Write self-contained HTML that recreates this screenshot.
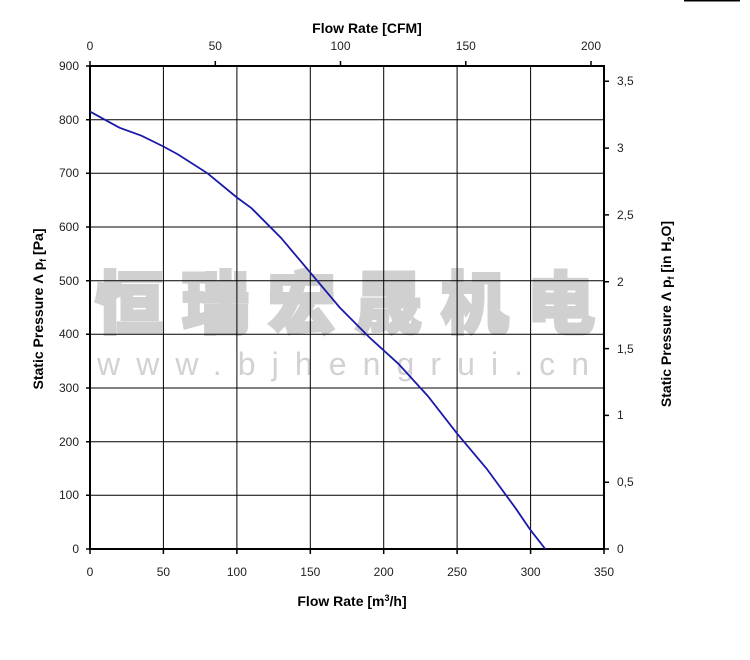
<!DOCTYPE html>
<html><head><meta charset="utf-8"><style>body{margin:0;background:#fff}svg{display:block}</style></head><body>
<svg width="750" height="660" xmlns="http://www.w3.org/2000/svg" font-family="Liberation Sans, Arial, sans-serif">
<rect width="750" height="660" fill="#fff"/>
<line x1="684" y1="0.5" x2="740" y2="0.5" stroke="#000" stroke-width="2"/>
<text x="95" y="328" font-size="68" font-weight="900" fill="#d0d0d0" textLength="500" lengthAdjust="spacing" font-family="Noto Sans CJK SC, WenQuanYi Zen Hei, sans-serif" stroke="#d0d0d0" stroke-width="3">恒瑞宏晟机电</text>
<text x="97" y="375" font-size="32" fill="#d2d2d2" textLength="492" lengthAdjust="spacing">www.bjhengrui.cn</text>
<g stroke="#000" stroke-width="1">
<line x1="163.4" y1="66" x2="163.4" y2="549"/><line x1="236.9" y1="66" x2="236.9" y2="549"/><line x1="310.3" y1="66" x2="310.3" y2="549"/><line x1="383.7" y1="66" x2="383.7" y2="549"/><line x1="457.1" y1="66" x2="457.1" y2="549"/><line x1="530.6" y1="66" x2="530.6" y2="549"/>
<line x1="90" y1="119.7" x2="604" y2="119.7"/><line x1="90" y1="173.3" x2="604" y2="173.3"/><line x1="90" y1="227" x2="604" y2="227"/><line x1="90" y1="280.7" x2="604" y2="280.7"/><line x1="90" y1="334.3" x2="604" y2="334.3"/><line x1="90" y1="388" x2="604" y2="388"/><line x1="90" y1="441.7" x2="604" y2="441.7"/><line x1="90" y1="495.3" x2="604" y2="495.3"/>
</g>
<rect x="90" y="66" width="514" height="483" fill="none" stroke="#000" stroke-width="2"/>
<g stroke="#000" stroke-width="1.5">
<path d="M86 66h4M86 119.7h4M86 173.3h4M86 227h4M86 280.7h4M86 334.3h4M86 388h4M86 441.7h4M86 495.3h4M86 549h4"/>
<path d="M90 549v5M163.4 549v5M236.9 549v5M310.3 549v5M383.7 549v5M457.1 549v5M530.6 549v5M604 549v5"/>
<path d="M90 66v-5M215.3 66v-5M340.5 66v-5M465.8 66v-5M591 66v-5"/>
<path d="M604 549h5M604 482.2h5M604 415.4h5M604 348.6h5M604 281.7h5M604 214.9h5M604 148.1h5M604 81.3h5"/>
</g>
<g font-size="12" fill="#222" text-anchor="end">
<text x="79" y="70">900</text><text x="79" y="124">800</text><text x="79" y="177">700</text><text x="79" y="231">600</text><text x="79" y="285">500</text><text x="79" y="338">400</text><text x="79" y="392">300</text><text x="79" y="446">200</text><text x="79" y="499">100</text><text x="79" y="553">0</text>
</g>
<g font-size="12" fill="#222" text-anchor="middle">
<text x="90" y="576">0</text><text x="163.4" y="576">50</text><text x="236.9" y="576">100</text><text x="310.3" y="576">150</text><text x="383.7" y="576">200</text><text x="457.1" y="576">250</text><text x="530.6" y="576">300</text><text x="604" y="576">350</text>
<text x="90" y="50">0</text><text x="215.3" y="50">50</text><text x="340.5" y="50">100</text><text x="465.8" y="50">150</text><text x="591" y="50">200</text>
</g>
<g font-size="12" fill="#222">
<text x="617" y="553">0</text><text x="617" y="486">0,5</text><text x="617" y="419">1</text><text x="617" y="353">1,5</text><text x="617" y="286">2</text><text x="617" y="219">2,5</text><text x="617" y="152">3</text><text x="617" y="85">3,5</text>
</g>
<text x="352" y="606" font-size="14" font-weight="bold" text-anchor="middle">Flow Rate [m<tspan font-size="9" dy="-5">3</tspan><tspan dy="5">/h]</tspan></text>
<text x="367" y="33" font-size="14" font-weight="bold" text-anchor="middle">Flow Rate [CFM]</text>
<text transform="translate(43,309) rotate(-90)" font-size="14" font-weight="bold" text-anchor="middle">Static Pressure Λ p<tspan font-size="9" dy="3">f</tspan><tspan dy="-3"> [Pa]</tspan></text>
<text transform="translate(671,314) rotate(-90)" font-size="14" font-weight="bold" text-anchor="middle">Static Pressure Λ p<tspan font-size="9" dy="3">f</tspan><tspan dy="-3"> [in H</tspan><tspan font-size="9" dy="3">2</tspan><tspan dy="-3">O]</tspan></text>
<polyline fill="none" stroke="#1a1aa8" stroke-width="1.8" points="90,111.6 119.4,127.7 141.4,135.7 163.4,146.5 178.1,154.5 207.5,173.3 236.9,197.5 251.5,208.2 280.9,237.7 310.3,272.6 339.7,307.5 369,337 398.4,363.8 427.8,396 457.1,433.6 486.5,468.5 515.9,508.7 530.6,530.2 545.3,549"/>
</svg>
</body></html>
